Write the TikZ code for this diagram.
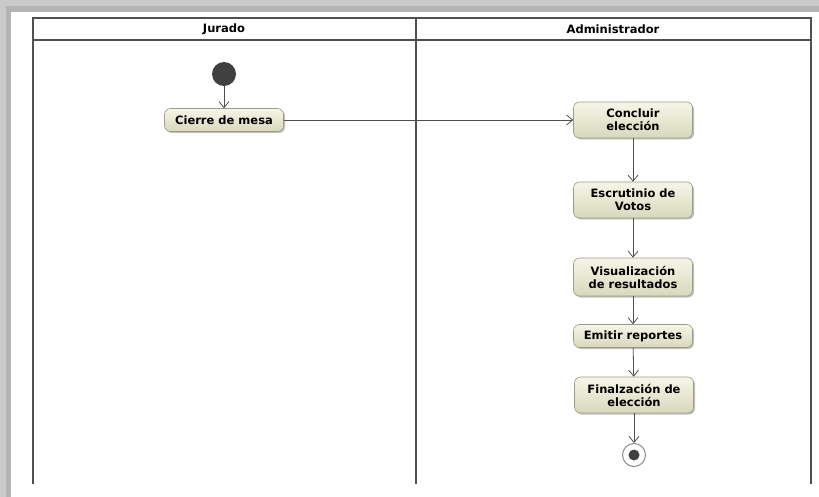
\documentclass[tikz,border=0pt]{standalone}
\usepackage{fontspec}
\setmainfont{DejaVu Sans}
\usetikzlibrary{arrows.meta,positioning,shadows}
\definecolor{lanegray}{HTML}{505050}
\definecolor{actlight}{HTML}{F6F6E8}
\definecolor{actdark}{HTML}{D8D8BC}
\definecolor{actline}{HTML}{9C9C84}
\definecolor{framegray}{HTML}{B4B4B4}
\tikzset{
  action/.style={
    draw=actline,
    rounded corners=6pt,
    top color=actlight,
    bottom color=actdark,
    minimum width=119pt,
    minimum height=23pt,
    inner sep=2pt,
    align=center,
    font=\fontsize{11.5}{13}\selectfont\bfseries,
    line width=0.6pt,
    drop shadow={shadow xshift=1.5pt, shadow yshift=-1.5pt, fill=black, opacity=0.25}
  },
  title/.style={font=\fontsize{11.5}{13}\selectfont\bfseries},
  flow/.style={-{Straight Barb[length=6pt,width=10pt]}, draw=lanegray, line width=0.8pt},
  lane/.style={draw=lanegray, line width=1.8pt},
  initial/.style={circle, fill=black!75, minimum size=24pt, inner sep=0pt},
  final/.style={circle, draw=black!45, fill=white, line width=1pt, minimum size=23pt, inner sep=0pt}
}

\begin{document}
\begin{tikzpicture}[x=1pt, y=-1pt]
  \useasboundingbox (0,0) rectangle (819,497);
  % backdrop
  \fill[framegray!70] (0,0) rectangle (819,497);
  \fill[framegray] (6,6) rectangle (819,497);
  \fill[white] (11,12) rectangle (819,497);

  % swimlanes
  \draw[lane] (33,484) -- (33,18) -- (811,18) -- (811,484);
  \draw[lane] (33,40) -- (811,40);
  \draw[lane] (416,18) -- (416,484);
  \node[title] (jurado) at (224,29) {Jurado};
  \node[title] (admin) at (613,29) {Administrador};

  % actions
  \node[initial] (inicio) at (224,74) {};
  \node[action] (cierre) at (224,120) {Cierre de mesa};
  \node[action, minimum height=36pt] (concluir) at (633,120) {Concluir\\elección};
  \node[action, minimum height=36pt] (escrutinio) at (633,200) {Escrutinio de\\Votos};
  \node[action, minimum height=38pt] (visual) at (633,277) {Visualización\\de resultados};
  \node[action] (emitir) at (633,336) {Emitir reportes};
  \node[action, minimum height=36pt] (finalizacion) at (634,395) {Finalzación de\\elección};
  \node[final] (fin) at (634,455) {};
  \fill[black!75] (fin.center) circle (5.5pt);

  \draw[flow] (inicio) -- (cierre);
  \draw[flow] (cierre) -- (concluir);
  \draw[flow] (concluir) -- (escrutinio);
  \draw[flow] (escrutinio) -- (visual);
  \draw[flow] (visual) -- (emitir);
  \draw[flow] (emitir) -- (finalizacion);
  \draw[flow] (finalizacion) -- (fin);
\end{tikzpicture}
\end{document}
